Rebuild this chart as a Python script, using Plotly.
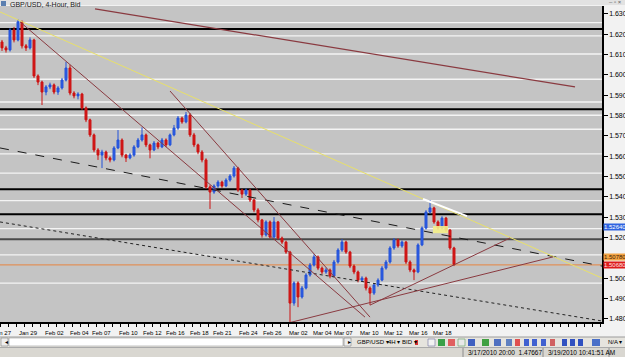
import plotly.graph_objects as go

# ---------------- data ----------------
first_open = 1.6162
closes = [1.6133, 1.6123, 1.6221, 1.6172, 1.6261, 1.6143, 1.6133, 1.6172, 1.5995, 1.5965,
          1.5916, 1.5941, 1.5951, 1.5916, 1.5936, 1.5975, 1.6034, 1.5911, 1.5897, 1.5906,
          1.5838, 1.5779, 1.5705, 1.5631, 1.5606, 1.5621, 1.5592, 1.5582, 1.5641, 1.5680,
          1.5606, 1.5592, 1.5606, 1.5646, 1.5680, 1.5705, 1.5656, 1.5631, 1.5665, 1.5646,
          1.5680, 1.5656, 1.5705, 1.5739, 1.5788, 1.5769, 1.5803, 1.5705, 1.5656, 1.5621,
          1.5582, 1.5449, 1.5424, 1.5454, 1.5473, 1.5454, 1.5483, 1.5503, 1.5542, 1.5434,
          1.5414, 1.5434, 1.5385, 1.5336, 1.5287, 1.5213, 1.5277, 1.5203, 1.5277, 1.5198,
          1.5178, 1.5129, 1.4878, 1.4977, 1.4908, 1.4952, 1.5016, 1.5065, 1.5105, 1.5050,
          1.5031, 1.5041, 1.5011, 1.5080, 1.5139, 1.5178, 1.5129, 1.5060, 1.5031, 1.4991,
          1.5001, 1.4952, 1.4927, 1.4967, 1.4991, 1.5050, 1.5080, 1.5149, 1.5188, 1.5159,
          1.5178, 1.5080, 1.5041, 1.5031, 1.5164, 1.5247, 1.5326, 1.5346, 1.5277, 1.5247,
          1.5296, 1.5237, 1.5149, 1.5068]
highs = [1.6172, 1.6143, 1.6230, 1.6236, 1.6274, 1.6268, 1.6152, 1.6185, 1.6178, 1.6003,
         1.5972, 1.5950, 1.5962, 1.5958, 1.5945, 1.5985, 1.6064, 1.6050, 1.5920, 1.5915,
         1.5912, 1.5845, 1.5785, 1.5712, 1.5640, 1.5632, 1.5628, 1.5600, 1.5650, 1.5729,
         1.5688, 1.5612, 1.5615, 1.5655, 1.5690, 1.5742, 1.5712, 1.5662, 1.5675, 1.5672,
         1.5690, 1.5688, 1.5712, 1.5754, 1.5798, 1.5795, 1.5818, 1.5812, 1.5715, 1.5662,
         1.5630, 1.5590, 1.5458, 1.5462, 1.5482, 1.5480, 1.5492, 1.5512, 1.5552, 1.5548,
         1.5440, 1.5442, 1.5440, 1.5392, 1.5345, 1.5292, 1.5285, 1.5284, 1.5301, 1.5282,
         1.5205, 1.5185, 1.5135, 1.4985, 1.4985, 1.4962, 1.5025, 1.5075, 1.5118, 1.5112,
         1.5058, 1.5052, 1.5048, 1.5090, 1.5148, 1.5193, 1.5185, 1.5135, 1.5068, 1.5038,
         1.5010, 1.5008, 1.4960, 1.4975, 1.5000, 1.5060, 1.5090, 1.5158, 1.5198, 1.5195,
         1.5186, 1.5184, 1.5088, 1.5048, 1.5172, 1.5255, 1.5335, 1.5385, 1.5352, 1.5285,
         1.5305, 1.5302, 1.5242, 1.5155]
lows = [1.6118, 1.6110, 1.6115, 1.6160, 1.6165, 1.6130, 1.6118, 1.6125, 1.5985, 1.5950,
        1.5852, 1.5900, 1.5930, 1.5905, 1.5902, 1.5928, 1.5968, 1.5900, 1.5885, 1.5880,
        1.5828, 1.5768, 1.5695, 1.5620, 1.5582, 1.5542, 1.5580, 1.5570, 1.5575, 1.5635,
        1.5595, 1.5572, 1.5585, 1.5598, 1.5640, 1.5672, 1.5645, 1.5590, 1.5625, 1.5635,
        1.5640, 1.5645, 1.5650, 1.5698, 1.5730, 1.5760, 1.5762, 1.5695, 1.5645, 1.5610,
        1.5570, 1.5440, 1.5341, 1.5415, 1.5445, 1.5445, 1.5448, 1.5475, 1.5495, 1.5425,
        1.5395, 1.5405, 1.5375, 1.5325, 1.5275, 1.5200, 1.5205, 1.5195, 1.5196, 1.5190,
        1.5168, 1.5120, 1.4782, 1.4865, 1.4858, 1.4900, 1.4945, 1.5008, 1.5058, 1.5040,
        1.5020, 1.5022, 1.5000, 1.5005, 1.5072, 1.5130, 1.5120, 1.5050, 1.5020, 1.4980,
        1.4982, 1.4940, 1.4868, 1.4918, 1.4958, 1.4985, 1.5042, 1.5072, 1.5140, 1.5150,
        1.5150, 1.5070, 1.5030, 1.4991, 1.5025, 1.5158, 1.5240, 1.5318, 1.5268, 1.5238,
        1.5240, 1.5228, 1.5140, 1.5060]
opens = [first_open] + closes[:-1]
bars = list(range(len(closes)))

price_ticks = [1.48, 1.49, 1.50, 1.51, 1.52, 1.53, 1.54, 1.55, 1.56, 1.57, 1.58, 1.59, 1.60, 1.61, 1.62, 1.63]
price_tick_text = ["1.48000", "1.49000", "1.50000", "1.51000", "1.52000", "1.53000", "1.54000", "1.55000",
                   "1.56000", "1.57000", "1.58000", "1.59000", "1.60000", "1.61000", "1.62000", "1.63000"]

date_labels = ["Jan 27", "Jan 29", "Feb 02", "Feb 04", "Feb 07", "Feb 10", "Feb 12", "Feb 16", "Feb 18",
               "Feb 21", "Feb 24", "Feb 26", "Mar 02", "Mar 04", "Mar 07", "Mar 10", "Mar 12", "Mar 16", "Mar 18"]
date_pos = [-2.75, 3.75, 10.25, 16.5, 22.0, 28.75, 34.75, 40.5, 46.5, 52.25, 58.75, 64.75, 71.25,
            77.25, 82.5, 89.0, 95.0, 101.25, 107.25]

white_levels = [1.6257, 1.6192, 1.6103, 1.5979, 1.5867, 1.5802, 1.5733, 1.5612, 1.5517,
                1.5382, 1.5244, 1.5115, 1.4976]
black_levels = [1.6226, 1.5831, 1.5438, 1.5315]
dark_level = 1.5192
orange_level = 1.5066

# trend lines: (bar, price) -> (bar, price)
trend_yellow = [(-0.5, 1.6310), (150.0, 1.5001)]
trend_white = [(105.25, 1.5390), (116.25, 1.5306)]
trend_maroon_top = [(23.25, 1.6325), (143.25, 1.5941)]
trend_channel_1 = [(4.5, 1.6261), (90.75, 1.4809)]
trend_channel_2 = [(42.0, 1.5921), (92.0, 1.4809)]
trend_dashed = [(-0.5, 1.5641), (150.0, 1.5060)]
trend_dotted = [(-0.5, 1.5277), (150.0, 1.4790)]
trend_up_a = [(71.5, 1.4780), (137.75, 1.5105)]
trend_up_b = [(92.0, 1.4868), (127.0, 1.5198)]
highlight_box = [(107.75, 1.5257), (111.5, 1.5222)]

axis_labels = [("1.52640", 1.5252, "#2f63e0", "white"),
               ("1.50780", 1.5106, "#f3a444", "#402000"),
               ("1.50680", 1.5063, "#dd1a1a", "#ffe0e0")]

# ---------------- figure ----------------
W, H = 625, 357
PL, PR, PT, PB = 0, 602, 6, 322          # plot area in pixels
FONT = "Liberation Sans"
X0, X1 = -0.5, 150.0


def X(px):
    return (px - PL) / (PR - PL)


def Y(py):
    return (PB - py) / (PB - PT)


def bar_to_paper(b):
    return (b - X0) / (X1 - X0)


fig = go.Figure()
fig.add_trace(go.Candlestick(
    x=bars, open=opens, high=highs, low=lows, close=closes,
    increasing=dict(line=dict(color="#2352d8", width=1), fillcolor="#2f5fe6"),
    decreasing=dict(line=dict(color="#cc1212", width=1), fillcolor="#d41a1a"),
    whiskerwidth=0, hoverinfo="skip", showlegend=False))

shapes = []
for lv in white_levels:
    shapes.append(dict(type="line", xref="paper", yref="y", x0=0, x1=1, y0=lv, y1=lv,
                       line=dict(color="#f4f4f4", width=1.4), layer="below"))
for lv in black_levels:
    shapes.append(dict(type="line", xref="paper", yref="y", x0=0, x1=1, y0=lv, y1=lv,
                       line=dict(color="#000000", width=2), layer="below"))
shapes.append(dict(type="line", xref="paper", yref="y", x0=0, x1=1, y0=dark_level, y1=dark_level,
                   line=dict(color="#4a4a4a", width=2.2), layer="below"))
shapes.append(dict(type="line", xref="paper", yref="y", x0=0, x1=1, y0=orange_level, y1=orange_level,
                   line=dict(color="#e0915a", width=1.4), layer="below"))


def seg(pts, color, width, dash="solid"):
    (a, b), (c, d) = pts
    return dict(type="line", xref="x", yref="y", x0=a, y0=b, x1=c, y1=d,
                line=dict(color=color, width=width, dash=dash))


shapes += [
    seg(trend_dotted, "#222222", 1, "dot"),
    seg(trend_dashed, "#1a1a1a", 1, "dash"),
    seg(trend_yellow, "#e8e06a", 1),
    seg(trend_white, "#ffffff", 2),
    seg(trend_maroon_top, "#8a3a40", 1.2),
    seg(trend_channel_1, "#8a3a40", 1),
    seg(trend_channel_2, "#8a3a40", 1),
    seg(trend_up_a, "#8a3a40", 1),
    seg(trend_up_b, "#8a3a40", 1),
]
(hx0, hy0), (hx1, hy1) = highlight_box
shapes.append(dict(type="rect", xref="x", yref="y", x0=hx0, x1=hx1, y0=hy1, y1=hy0,
                   fillcolor="#f4f08a", line=dict(width=0), opacity=0.9))


# ---- window chrome (pixel helpers) ----
def prect(x0, y0, x1, y1, fill, line=None, lw=0):
    return dict(type="rect", xref="paper", yref="paper", x0=X(x0), x1=X(x1), y0=Y(y1), y1=Y(y0),
                fillcolor=fill, line=dict(color=line or fill, width=lw), layer="above")


def pline(x0, y0, x1, y1, color, w=1):
    return dict(type="line", xref="paper", yref="paper", x0=X(x0), x1=X(x1), y0=Y(y0), y1=Y(y1),
                line=dict(color=color, width=w), layer="above")


shapes += [
    prect(0, 0, 625, 5, "#e2e2e2"),
    prect(0, 337, 625, 347, "#e6e4de"),
    prect(9, 338, 343, 346, "#ffffff", "#9a9a9a", 0.6),
    prect(1, 338, 8, 346, "#eeeeee", "#808080", 0.6),
    prect(344, 338, 351, 346, "#eeeeee", "#808080", 0.6),
    prect(0, 347, 625, 357, "#d9d7d1"),
    pline(0, 337, 625, 337, "#9c9c9c", 1),
    pline(0, 347.5, 625, 347.5, "#aaaaaa", 1),
    pline(463, 348, 463, 357, "#8c8c8c", 1),
    pline(543, 348, 543, 357, "#8c8c8c", 1),
    pline(609, 348, 609, 357, "#8c8c8c", 1),
    prect(1, 1, 6, 6, "#5b7fb0"),
    # toolbar icons
    prect(415, 340, 418, 345, "#d83030"),
    prect(428, 339, 435, 346, "#f2f2f2", "#7070a0", 0.6),
    prect(438, 339, 445, 346, "#3aa048"),
    prect(448, 339, 455, 346, "#e06060"),
    prect(458, 339, 465, 346, "#e8e8e8", "#60a060", 0.6),
    prect(468, 339, 475, 346, "#4060c0"),
    prect(482, 339, 489, 346, "#40a040"),
    prect(494, 339, 501, 346, "#5070c0"),
    prect(506, 339, 512, 346, "#6080c0"),
    prect(515, 339, 520, 346, "#e05050"),
    prect(524, 339, 529, 346, "#4060d0"),
    prect(532, 339, 537, 346, "#4060d0"),
    prect(541, 339, 546, 346, "#4060d0"),
    prect(550, 339, 555, 346, "#d06060"),
    prect(562, 339, 567, 346, "#3050c0"),
    prect(570, 339, 575, 346, "#3050c0"),
    prect(578, 339, 583, 346, "#3050c0"),
    prect(592, 339, 600, 346, "#4a70c8"),
]

ann = []
for i, lab in enumerate(date_labels):
    ann.append(dict(x=bar_to_paper(date_pos[i]), y=Y(332.5), xref="paper", yref="paper", text=lab,
                    showarrow=False, xanchor="left", yanchor="middle",
                    font=dict(size=6, family=FONT, color="#000")))
for txt, lvl, bg, fc in axis_labels:
    ann.append(dict(x=X(603), y=lvl, xref="paper", yref="y", text=txt, showarrow=False,
                    xanchor="left", yanchor="middle", bgcolor=bg, borderpad=0,
                    font=dict(size=6, family=FONT, color=fc)))


def ptext(px, py, text, size=7, color="#000", anchor="left"):
    return dict(x=X(px), y=Y(py), xref="paper", yref="paper", text=text, showarrow=False,
                xanchor=anchor, yanchor="middle", font=dict(size=size, family=FONT, color=color))


ann += [
    ptext(8, 4.5, "GBP/USD, 4-Hour, Bid", 7, "#202020"),
    ptext(607, 2.5, "– ▫ ×", 6, "#606060"),
    ptext(2.5, 342, "◂", 6, "#000"),
    ptext(345.5, 342, "▸", 6, "#000"),
    ptext(355, 342, "GBP/USD ▾", 6),
    ptext(386, 342, "4H ▾", 6),
    ptext(400, 342, "BID ▾", 6),
    ptext(606, 342, "N/A ▾", 6),
    ptext(466, 352.5, "3/17/2010 20:00  1.47667", 6.5),
    ptext(546, 352.5, "3/19/2010 10:41:51 AM", 6.5),
]

fig.update_layout(
    width=W, height=H,
    margin=dict(l=PL, r=W - PR, t=PT, b=H - PB, pad=0, autoexpand=False),
    paper_bgcolor="#f2f2f2", plot_bgcolor="#c4c4c4",
    shapes=shapes, annotations=ann, showlegend=False, hovermode=False,
    xaxis=dict(range=[X0, X1], rangeslider=dict(visible=False), showgrid=False, zeroline=False,
               showticklabels=False, ticks="outside", ticklen=3, tickcolor="#000",
               tickvals=[v / 2 for v in range(-1, 301, 4)], automargin=False,
               showline=True, linecolor="#000", linewidth=2, fixedrange=True),
    yaxis=dict(range=[1.4785, 1.6339], side="right", showgrid=False, zeroline=False,
               tickvals=price_ticks, ticktext=price_tick_text, ticks="outside", ticklen=4,
               tickcolor="#000", tickfont=dict(size=7, family=FONT, color="#000"), automargin=False,
               showline=True, linecolor="#000", linewidth=1.5, fixedrange=True),
)

fig.write_html("out.html")
